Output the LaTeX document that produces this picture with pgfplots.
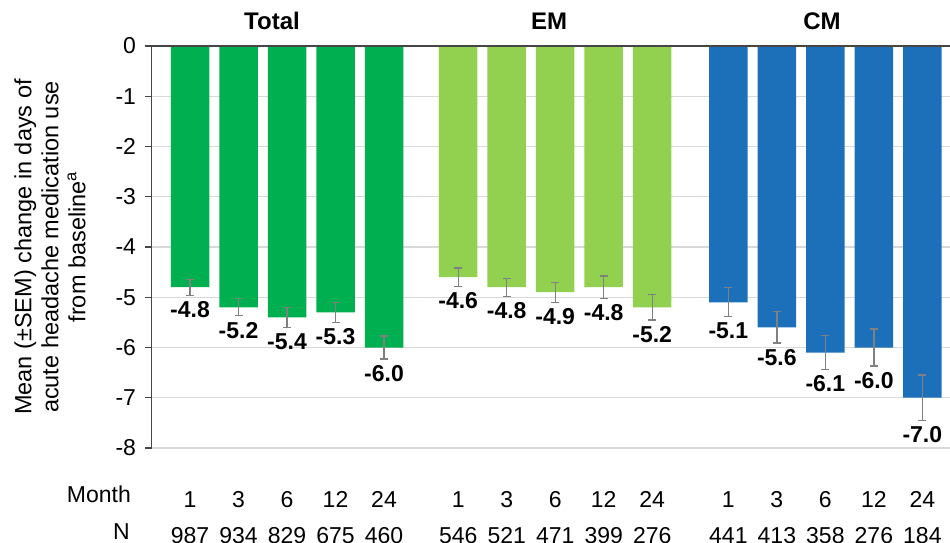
\documentclass[border=0pt]{standalone}
\usepackage{fontspec}
\setmainfont{Liberation Sans}
\usepackage{pgfplots}
\usepackage{pgfplotstable}
\pgfplotsset{compat=1.18}

\definecolor{cTot}{RGB}{0,176,80}
\definecolor{cEM}{RGB}{146,208,80}
\definecolor{cCM}{RGB}{28,112,185}
\definecolor{errgray}{RGB}{128,128,128}
\definecolor{gridgray}{RGB}{217,217,217}
\definecolor{axisgray}{RGB}{70,70,70}

% x = bar position, y = mean change, e = SEM
\pgfplotstableread{
x    y    e
0    -4.8 0.16
1    -5.2 0.17
2    -5.4 0.20
3    -5.3 0.20
4    -6.0 0.23
}\tabTot
\pgfplotstableread{
x    y    e
5.53 -4.6 0.18
6.53 -4.8 0.18
7.53 -4.9 0.20
8.53 -4.8 0.22
9.53 -5.2 0.25
}\tabEM
\pgfplotstableread{
x    y    e
11.1 -5.1 0.29
12.1 -5.6 0.31
13.1 -6.1 0.34
14.1 -6.0 0.37
15.1 -7.0 0.45
}\tabCM

\pgfplotsset{
  barstyle/.style={ybar, bar width=38.5pt, bar shift=0pt, draw=none,
    error bars/y dir=both, error bars/y explicit,
    error bars/error bar style={errgray, line width=1.3pt},
    error bars/error mark options={errgray, line width=1.3pt, mark size=4pt, rotate=90}},
  valstyle/.style={draw=none, mark=none, point meta=\thisrow{y},
    nodes near coords={\pgfmathprintnumber[fixed,fixed zerofill,precision=1]{\pgfplotspointmeta}},
    nodes near coords style={anchor=north, font=\fontsize{23}{27}\selectfont\bfseries,
      text=black, inner sep=0pt, yshift=-6pt}},
}

\begin{document}
\begin{tikzpicture}
\path[use as bounding box] (0,0) rectangle (950pt,543pt);
\begin{axis}[
  at={(151.5pt,95pt)}, anchor=south west,
  scale only axis, width=798.5pt, height=402pt,
  xmin=-0.794, xmax=15.67, ymin=-8, ymax=0,
  axis y line*=left, axis x line*=bottom,
  x axis line style={draw=none},
  y axis line style={axisgray, line width=1.3pt},
  ytick={-8,-7,...,0},
  ymajorgrids, grid style={gridgray, line width=1.3pt},
  tick align=outside, major tick length=7pt,
  ytick style={axisgray, line width=1.3pt},
  xtick style={draw=none},
  xtick={0,1,2,3,4,5.53,6.53,7.53,8.53,9.53,11.1,12.1,13.1,14.1,15.1},
  xticklabels={{1\\987},{3\\934},{6\\829},{12\\675},{24\\460},
               {1\\546},{3\\521},{6\\471},{12\\399},{24\\276},
               {1\\441},{3\\413},{6\\358},{12\\276},{24\\184}},
  xticklabel style={align=center, font=\fontsize{23}{36.5}\selectfont,
    anchor=north, inner sep=0pt, yshift=-36pt},
  yticklabel style={font=\fontsize{23}{27}\selectfont, xshift=-5pt},
  ylabel={Mean (±SEM) change in days of\\acute headache medication use\\from baseline\textsuperscript{a}},
  ylabel style={at={(axis description cs:-0.1271,0.5)}, anchor=center,
    align=center, font=\fontsize{23.5}{27}\selectfont},
  /pgf/number format/assume math mode=true,
  clip=false,
]
\addplot[barstyle, fill=cTot] table[x=x, y=y, y error=e] {\tabTot};
\addplot[barstyle, fill=cEM]  table[x=x, y=y, y error=e] {\tabEM};
\addplot[barstyle, fill=cCM]  table[x=x, y=y, y error=e] {\tabCM};

\addplot[valstyle] table[x=x, y expr=\thisrow{y}-\thisrow{e}] {\tabTot};
\addplot[valstyle] table[x=x, y expr=\thisrow{y}-\thisrow{e}] {\tabEM};
\addplot[valstyle] table[x=x, y expr=\thisrow{y}-\thisrow{e}] {\tabCM};

\draw[axisgray, line width=2pt] (rel axis cs:0,1) -- (rel axis cs:1,1);
\end{axis}

\begin{scope}[font=\fontsize{24}{28}\selectfont\bfseries]
  \node[anchor=base] at (272pt,513pt) {Total};
  \node[anchor=base] at (549pt,513pt) {EM};
  \node[anchor=base] at (822pt,513pt) {CM};
\end{scope}
\begin{scope}[font=\fontsize{23}{27}\selectfont]
  \node[anchor=base east, inner sep=0pt] at (131pt,40pt) {Month};
  \node[anchor=base east, inner sep=0pt] at (130pt,3.5pt) {N};
\end{scope}
\end{tikzpicture}
\end{document}
